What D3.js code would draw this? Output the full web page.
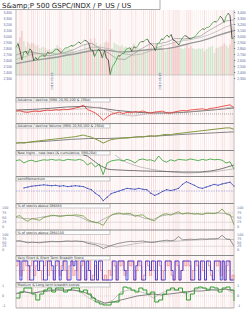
<!DOCTYPE html>
<html>
<head>
<meta charset="utf-8">
<script src="https://cdn.jsdelivr.net/npm/d3@7"></script>
<style>
body { margin: 0; background: #fff; }
svg { display: block; font-family: "DejaVu Sans", sans-serif; }
</style>
</head>
<body>
<script>
var WIDTH = 250,
    HEIGHT = 313,
    X0 = 16,
    X1 = 234;

var title = "S&amp;P 500 GSPC/INDX / P_US / US";

// weekly closes, first and last week
var firstWeek = new Date(2018, 0, 19),
    lastWeek = new Date(2020, 2, 6);
var dateTicks = [new Date(2018, 4, 29), new Date(2019, 5, 18)];
var priceTicks = [2300, 2400, 2500, 2600, 2700, 2800, 2900, 3000, 3100, 3200, 3300, 3400];
var pctTicks = [0, 25, 50, 75, 100];
var scoreTicks = [-1, 0, 1];

var close = [2810, 2873,
  2762, 2600, 2732, 2747, 2691, 2786, 2752, 2588, 2641,
  2604, 2656, 2670, 2670, 2663, 2728, 2713, 2721,
  2735, 2779, 2780, 2755, 2718, 2760, 2801, 2802, 2819,
  2840, 2833, 2850, 2875, 2902, 2872, 2905, 2930, 2914,
  2885, 2767, 2768, 2658, 2723, 2781, 2736, 2633, 2760,
  2633, 2600, 2351, 2486,
  2532, 2596, 2671, 2665, 2707, 2708, 2776, 2793,
  2804, 2743, 2822, 2801, 2834, 2893, 2907, 2905, 2940,
  2946, 2881, 2860, 2826, 2752, 2873, 2887, 2950, 2942,
  2990, 3014, 2977, 3026, 2932, 2919, 2889, 2847, 2926,
  2979, 3007, 2992, 2962, 2952, 2970, 2986, 3023,
  3067, 3093, 3120, 3110, 3141, 3146, 3169, 3221, 3240,
  3235, 3265, 3330, 3295, 3226, 3328, 3380, 3338, 2954, 2972];

var volume = [3.6, 4.2, 4.8, 5.6, 4.3, 3.6, 4.2, 3.9, 4.1, 4.0,
  3.7, 3.8, 3.4, 3.5, 3.6, 3.4, 3.2, 3.3, 3.1, 3.3,
  3.4, 3.8, 3.5, 3.4, 3.0, 3.2, 3.3, 3.4, 3.3, 3.1,
  3.0, 2.9, 3.0, 3.1, 3.1, 3.9, 3.3, 3.5, 4.6, 4.1,
  4.7, 4.1, 3.7, 3.9, 3.0, 4.1, 4.3, 4.1, 5.8, 3.4,
  4.1, 3.9, 3.8, 3.6, 3.8, 3.5, 3.6, 3.4, 3.4, 3.6,
  4.0, 3.6, 3.5, 3.4, 3.2, 3.3, 3.3, 3.4, 3.8, 3.5,
  3.4, 3.8, 3.6, 3.5, 3.9, 3.3, 3.0, 3.2, 3.3, 3.4,
  4.3, 4.0, 3.8, 3.6, 3.4, 3.3, 3.5, 3.8, 3.4, 3.7,
  3.4, 3.3, 3.3, 3.4, 3.3, 3.4, 3.0, 3.3, 3.5, 3.6,
  3.7, 2.8,
  3.4, 3.5, 3.6, 3.7, 4.0, 3.8, 3.5, 3.9, 6.2, 6.0];

// monthly moving averages, Jan 2018 .. Mar 2020
var sma50 = [2680, 2740, 2730, 2700, 2670, 2700, 2730, 2780, 2850, 2880, 2790, 2720,
  2620, 2610, 2700, 2790, 2870, 2870, 2900, 2960, 2950, 2970, 3000, 3090, 3170, 3250, 3270];
var sma100 = [2610, 2650, 2700, 2710, 2710, 2700, 2705, 2735, 2775, 2810, 2815, 2790,
  2740, 2700, 2680, 2700, 2750, 2815, 2855, 2895, 2925, 2945, 2975, 3020, 3080, 3150, 3200];
var sma200 = [2540, 2565, 2590, 2610, 2630, 2650, 2680, 2700, 2730, 2755, 2765, 2760,
  2740, 2735, 2745, 2760, 2775, 2780, 2790, 2815, 2850, 2885, 2915, 2955, 3005, 3050, 3090];

var adLine = [55, 57, 50, 48, 53, 55, 52, 57,
  60, 58, 62, 60, 64, 62, 66, 70,
  74, 85, 62, 55, 45, 30, 8, 25,
  38, 44, 50, 42, 48, 46, 52, 50,
  55, 48, 45, 50, 52, 54, 46, 44,
  50, 54, 58, 56, 60, 62, 64, 66,
  62, 68, 70, 74, 78, 82, 86, 70];
var adSlow = [60, 63, 68, 75, 78, 70, 58, 50, 45, 45, 48, 55, 62, 70];
var adFast = [54, 54, 58, 61, 66, 74, 40, 30, 44, 48, 50, 56, 64, 76];

var adVol = [30, 32, 30, 33, 36, 38, 40, 42,
  44, 46, 48, 50, 52, 54, 56, 58,
  62, 65, 60, 56, 48, 40, 30, 38,
  45, 48, 50, 52, 52, 54, 56, 58,
  56, 60, 62, 60, 62, 66, 68, 66,
  70, 72, 74, 76, 78, 80, 82, 84,
  86, 88, 90, 92, 94, 96, 96, 90];
var adVolMa = [30, 35, 40, 46, 50, 50, 53, 58, 62, 67, 71, 75, 79];

var nhnl = [72, 76, 60, 70, 74, 66, 72, 76,
  74, 78, 74, 76, 72, 78, 76, 74,
  78, 72, 50, 62, 40, 55, 2, 60,
  70, 74, 76, 70, 78, 72, 60, 76,
  80, 74, 76, 68, 95, 72, 64, 76,
  70, 78, 76, 74, 80, 76, 72, 78,
  74, 80, 76, 78, 74, 60, 66, 30];
var nhnlCum = [null, null, null, null, null, null, null, null,
  null, null, null, null, null, null, null, null,
  null, 110, 95, 80, 65, 50, 40, 30,
  27, 26, 25, 24, 23, 22, 22, 21,
  20, 20, 19, 19, 18, 18, 17, 17,
  16, 16, 15, 15, 15, 15, 15, 16,
  18, 20, 23, 27, 32, 38, 44, 50];
var nhnlSma = [null, null, null, null, null, null, null, null,
  null, null, null, null, null, null, null, null,
  null, null, null, null, null, null, null, null,
  null, 100, 85, 72, 62, 55, 48, 42,
  37, 33, 29, 26, 23, 20, 18, 16,
  14, 12, 11, 10, 10, 11, 12, 13,
  14, 15, 17, 19, 22, 25, 28, 30];

var momentum = [null, null, 64, 68, 72, 74, 76, 78,
  76, 74, 76, 72, 74, 70, 72, 74,
  72, 70, 62, 56, 40, 28, 6, 22,
  38, 44, 50, 56, 62, 60, 58, 62,
  58, 56, 40, 30, 38, 48, 56, 52,
  56, 62, 80, 92, 84, 76, 66, 62,
  68, 74, 80, 76, 82, 86, 90, 72];

var dma50 = [55, 60, 40, 30, 45, 40, 35, 50,
  55, 62, 60, 55, 58, 62, 60, 64,
  62, 58, 40, 30, 25, 20, 8, 40,
  62, 70, 74, 68, 72, 70, 56, 62,
  64, 48, 38, 32, 54, 66, 70, 62,
  72, 80, 68, 74, 72, 68, 70, 66,
  74, 72, 70, 76, 95, 70, 66, 12];
var dma50Ma = [50, 45, 42, 50, 58, 60, 60, 62, 52, 30, 22, 45, 66, 70,
  64, 60, 45, 40, 58, 66, 70, 70, 70, 68, 72, 74, 70, 50];

var dma200 = [60, 62, 55, 48, 52, 50, 48, 52,
  55, 58, 56, 55, 58, 60, 58, 60,
  58, 55, 45, 40, 35, 25, 10, 20,
  30, 38, 45, 50, 55, 58, 55, 58,
  60, 55, 50, 52, 58, 62, 65, 62,
  66, 90, 68, 70, 72, 70, 72, 74,
  72, 75, 74, 76, 98, 74, 70, 25];
var dma200Ma = [58, 52, 54, 58, 58, 40, 20, 40, 55, 55, 62, 68, 72, 70];

var shortScore = [1, 1, -1, 1, 1, 1, 0.5, -1,
  -1, 1, 1, 0, 1, 1, -1, -1,
  1, 1, 0.5, -1, 1, 1, -1, 0,
  1, 1, -1, -1, 1, 0.5, 1, -1,
  -1, 1, 1, -1, 1, 0, -1, -1,
  1, -1, 1, 1, -1, -1, -1, -1,
  -1, 1, 1, -1, 1, 1, 1, 0,
  -1, 1, 1, 1, -1, 0.5, 1, 1,
  -1, -1, 1, 1, 0, 1, 1, -1,
  1, 1, -1, -1, 1, 1, 1, 0,
  -1, 1, 1, -1, 0, 1, 1, 1,
  1, -1, -1, 1, 1, -1, 1, 1,
  -1, 1, 1, 0, -1, 1, 1, 1,
  -1, 1, -1, 1, 1, -1, -1, -1];
var veryShortScore = [0.5, 1, -0.5, 0, 1, 0.5, -1, 0.5,
  1, -0.5, 0.5, 1, 0, -1, 0.5, 1,
  -0.5, 1, 0, -1, 0.5, 1, -0.5, 0.5,
  1, 0, -1, 0.5, 1, -0.5, 0, 1,
  -1, 0.5, 1, -1, 0, 1, -1, -0.5,
  0.5, -1, 1, 0, -1, -0.5, -1, 0,
  -0.5, 1, 0.5, -1, 1, 0.5, 1, -0.5,
  0, 1, 0.5, 1, -1, 0, 1, 0.5,
  -1, -0.5, 1, 0.5, -0.5, 1, 0, -1,
  1, 0.5, -1, 0, 1, 0.5, 1, -0.5,
  -1, 1, 0.5, -1, 0, 1, 0.5, 1,
  0.5, -1, 0, 1, 0.5, -1, 1, 0,
  -1, 1, 0.5, -0.5, -1, 1, 0.5, 1,
  -0.5, 1, -1, 0.5, 1, -1, -0.5, -1];

var mediumScore = [-0.2, 0.4, 0.8, 0.8, 0.2, -0.4, 0.2, 0.6,
  0.8, 0.4, 0.8, 0.8, 0.4, 0.6, 0.8, 0.8,
  0.4, 0.6, 0.2, -0.2, -0.6, -0.8, -0.9, -0.9,
  -0.6, -0.6, 0.2, 0.9, 0.8, 0.6, 0.4, 0.8,
  0.6, 0.2, 0.4, -0.6, -0.4, 0.2, 0.6, 0.8,
  0.6, 0.8, 0.4, -0.4, 0.2, 0.8, 0.9, 0.8,
  0.6, 0.9, 0.8, 0.4, 0.8, 0.9, 0.6, -0.5];
var longScore = [0.2, 0.4, 0.3, 0.4, 0.5, 0.6, 0.6, 0.6, 0.5, 0.2, -0.4, -0.7, -0.6, -0.4,
  -0.2, 0.0, 0.1, 0.2, 0.1, 0.2, 0.3, 0.4, 0.5, 0.5, 0.6, 0.6, 0.7, 0.5];
var longScoreMa = [0.3, 0.5, 0.2, 0.5, 0.6, 0.7, 0.5, 0.6, 0.4, -0.2, -0.6, -0.8, -0.4, 0.4,
  0.6, 0.5, 0.3, -0.2, 0.3, 0.6, 0.6, 0.2, 0.6, 0.8, 0.7, 0.6, 0.7, 0.2];


var svg = d3.select("body").append("svg")
      .attr("width", WIDTH)
      .attr("height", HEIGHT);

var weeks = d3.timeFriday.range(firstWeek, d3.timeDay.offset(lastWeek, 1));
var x = d3.scaleTime().domain([firstWeek, lastWeek]).range([X0, X1]);

function isDown(i) { return i > 0 && close[i] < close[i - 1]; }

// index based x for the series that are not weekly
function xi(arr) {
  return d3.scaleLinear().domain([0, arr.length - 1]).range([X0, X1]);
}

function plotLine(arr, y, color, width, curve, opacity) {
  var xs = xi(arr);
  svg.append("path")
    .datum(arr)
    .attr("fill", "none")
    .attr("stroke", color)
    .attr("stroke-width", width)
    .attr("stroke-opacity", opacity || 1)
    .attr("d", d3.line()
      .defined(function(d) { return d !== null; })
      .x(function(d, i) { return xs(i); })
      .y(function(d) { return y(d); })
      .curve(curve || d3.curveLinear));
}

function hline(y, color, dash) {
  svg.append("line")
    .attr("x1", X0).attr("x2", X1)
    .attr("y1", y).attr("y2", y)
    .attr("stroke", color)
    .attr("stroke-width", 0.5)
    .attr("stroke-dasharray", dash || null);
}

function header(top, label) {
  svg.append("rect")
    .attr("x", X0).attr("y", top)
    .attr("width", X1 - X0).attr("height", 1)
    .attr("fill", "#8a8a8a");
  svg.append("rect")
    .attr("x", X0).attr("y", top + 1)
    .attr("width", 94).attr("height", 4)
    .attr("fill", "#fbfbfb")
    .attr("stroke", "#9a9a9a")
    .attr("stroke-width", 0.5);
  svg.append("text")
    .attr("x", X0 + 1.5).attr("y", top + 4.1)
    .attr("font-size", 3.4)
    .attr("fill", "#333")
    .text(label);
}

function sideLabels(ticks, y, fmt) {
  [2, 237].forEach(function(lx) {
    svg.append("g").selectAll("text").data(ticks).enter().append("text")
      .attr("x", lx)
      .attr("y", function(d) { return y(d) + 1.2; })
      .attr("font-size", 3.4)
      .attr("fill", "#5a6a9a")
      .text(fmt || function(d) { return d; });
  });
}

// pink stripes on every week, stronger on the down weeks
svg.append("g").selectAll("line")
  .data(weeks)
  .enter().append("line")
  .attr("x1", function(d) { return x(d); })
  .attr("x2", function(d) { return x(d); })
  .attr("y1", 10).attr("y2", 308)
  .attr("stroke", function(d, i) { return isDown(i) ? "#f4c4c4" : "#fae4e4"; })
  .attr("stroke-width", 0.6);

// title box
svg.append("text")
  .attr("x", 2).attr("y", 7.5)
  .attr("font-size", 7)
  .attr("fill", "#222")
  .text(title);
svg.append("path")
  .attr("d", "M0,9.5H160V0")
  .attr("fill", "none")
  .attr("stroke", "#888")
  .attr("stroke-width", 0.7);

// price panel
var yPrice = d3.scaleLinear().domain([2300, 3400]).range([78, 12]).clamp(true);
var yVol = d3.scaleLinear().domain([0, 8]).range([75, 12]);

svg.append("g").selectAll("rect")
  .data(volume)
  .enter().append("rect")
  .attr("x", function(d, i) { return x(weeks[i]) - 0.8; })
  .attr("y", function(d) { return yVol(d); })
  .attr("width", 1.6)
  .attr("height", function(d) { return 75 - yVol(d); })
  .attr("fill", function(d, i) { return isDown(i) ? "#eaa4a4" : "#a9d4a4"; })
  .attr("opacity", 0.45);

plotLine(sma200, yPrice, "#9a9a9a", 1.4);
plotLine(sma100, yPrice, "#a8a8a8", 0.6);
plotLine(sma50, yPrice, "#888", 0.6);

var pts = close.map(function(c, i) { return { date: weeks[i], close: c }; });
svg.append("g").selectAll("line")
  .data(d3.pairs(pts))
  .enter().append("line")
  .attr("x1", function(p) { return x(p[0].date); })
  .attr("y1", function(p) { return yPrice(p[0].close); })
  .attr("x2", function(p) { return x(p[1].date); })
  .attr("y2", function(p) { return yPrice(p[1].close); })
  .attr("stroke", function(p) { return p[1].close >= p[0].close ? "#35a035" : "#2a2a2a"; })
  .attr("stroke-width", 0.75);

hline(75, "#aaa");

svg.append("g")
  .attr("transform", "translate(" + X0 + ",0)")
  .call(d3.axisLeft(yPrice).tickValues(priceTicks).tickSize(0).tickPadding(4))
  .call(function(g) { g.select(".domain").remove(); })
  .selectAll("text").attr("font-size", 3.4).attr("fill", "#5a6a9a");
svg.append("g")
  .attr("transform", "translate(" + X1 + ",0)")
  .call(d3.axisRight(yPrice).tickValues(priceTicks).tickSize(1.2).tickPadding(2))
  .call(function(g) { g.select(".domain").remove(); g.selectAll("line").attr("stroke", "#5a6a9a"); })
  .selectAll("text").attr("font-size", 3.4).attr("fill", "#5a6a9a");

svg.append("g").selectAll("text")
  .data(dateTicks)
  .enter().append("text")
  .attr("transform", function(d) { return "translate(" + (x(d) + 1) + ",90) rotate(-90)"; })
  .attr("font-size", 3)
  .attr("fill", "#5a6a9a")
  .text(d3.timeFormat("%Y-%m-%d"));

// advance / decline
header(97, "Advance / decline (SMA 20,50,100 & 250d)");
var yAd = d3.scaleLinear().domain([0, 100]).range([122, 102]).clamp(true);
hline(yAd(40), "#555", "1,1");
plotLine(adSlow, yAd, "#777", 1);
plotLine(adFast, yAd, "#b0a0a0", 0.6);
plotLine(adLine, yAd, "#e8302a", 0.8);

// advance / decline volume
header(123, "Advance / decline Volume (SMA 20,50,100 & 250d)");
var yAdv = d3.scaleLinear().domain([0, 100]).range([150, 127]).clamp(true);
plotLine(adVolMa, yAdv, "#777", 0.9);
plotLine(adVol, yAdv, "#7f9a3c", 1);

// new highs - new lows
header(150, "New highs - new lows (& cumulative, SMA20d)");
var yNh = d3.scaleLinear().domain([0, 100]).range([175, 155]).clamp(true);
plotLine(nhnlSma, yNh, "#aaa", 0.7);
plotLine(nhnlCum, yNh, "#555", 0.8);
plotLine(nhnl, yNh, "#2f9e2f", 0.8);

// momentum
header(176, "sentiMomentum");
var yMo = d3.scaleLinear().domain([0, 100]).range([202, 180]).clamp(true);
hline(yMo(50), "#7070d0", "1.5,1");
plotLine(momentum, yMo, "#3a4ab8", 0.8);
var xm = xi(momentum);
svg.append("g").selectAll("circle")
  .data(momentum.map(function(d, i) { return [i, d]; }).filter(function(p) { return p[1] !== null; }))
  .enter().append("circle")
  .attr("cx", function(p) { return xm(p[0]); })
  .attr("cy", function(p) { return yMo(p[1]); })
  .attr("r", 0.6)
  .attr("fill", "#3a4ab8");

// % above DMA50
header(203, "% of stocks above DMA50");
var y50 = d3.scaleLinear().domain([0, 100]).range([227, 208]).clamp(true);
hline(y50(75), "#c9b0b0", "1,1");
hline(y50(25), "#c0c0c0");
plotLine(dma50Ma, y50, "#999", 0.7);
plotLine(dma50, y50, "#6f9a3a", 0.8);
sideLabels(pctTicks, y50);

// % above DMA200
header(229.5, "% of stocks above DMA200");
var y200 = d3.scaleLinear().domain([0, 100]).range([250, 235]).clamp(true);
hline(y200(25), "#c0c0c0");
plotLine(dma200Ma, y200, "#aaa", 0.7);
plotLine(dma200, y200, "#666", 0.7);
sideLabels(pctTicks, y200);

// short term breadth
header(255, "Very Short & Short Term Breadth Score");
var yS = d3.scaleLinear().domain([-1, 1]).range([280, 261]);
hline(yS(0), "#aaa", "1,1");
plotLine(veryShortScore, yS, "#f05050", 1.1, d3.curveStepAfter, 0.5);
plotLine(shortScore, yS, "#2828e0", 0.8, d3.curveStepAfter);

// medium and long term
header(282, "Medium & Long term breadth scores");
var yM = d3.scaleLinear().domain([-1, 1]).range([306, 286]);
hline(yM(0), "#bbb", "1,1");
plotLine(longScoreMa, yM, "#b0b0b0", 0.7);
plotLine(longScore, yM, "#666", 0.8);
plotLine(mediumScore, yM, "#2f9e2f", 1, d3.curveStepAfter);
sideLabels(scoreTicks, yM);
hline(308, "#555");

// frame
[X0, X1].forEach(function(fx) {
  svg.append("line")
    .attr("x1", fx).attr("x2", fx)
    .attr("y1", 10).attr("y2", 308)
    .attr("stroke", "#999")
    .attr("stroke-width", 0.6);
});
</script>
</body>
</html>
